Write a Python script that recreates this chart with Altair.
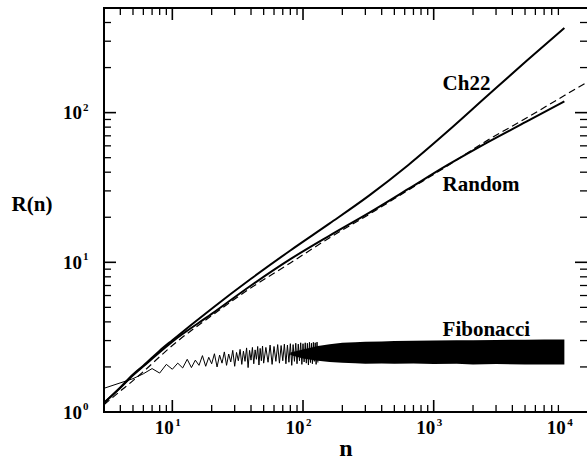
import altair as alt
import pandas as pd

# ---------------- data ----------------
curve_n = [3, 4, 5, 6, 8, 10, 20, 40, 80, 160, 320, 640, 1280, 2560, 5120, 10000]
ch22_r = [1.15, 1.46, 1.78, 2.04, 2.57, 3.02, 4.90, 7.76, 12.0, 18.2, 27.9, 44.7, 75.0, 129, 221, 367]
random_r = [1.15, 1.45, 1.76, 2.02, 2.51, 2.95, 4.52, 7.0, 10.5, 15.1, 21.4, 30.9, 44.7, 63.1, 87.1, 119]

dash_n = [3, 4, 5, 6, 8, 10, 20, 40, 80, 160, 320, 640, 1280, 2560, 5120, 10000, 15000]
dash_r = [1.12, 1.38, 1.62, 1.86, 2.34, 2.78, 4.40, 6.75, 9.9, 14.6, 20.9, 30.4, 44.2, 65.0, 92.0, 130, 160]

fib_n = [3, 5, 6, 7, 8, 9, 10, 11, 12, 13, 14, 15, 16, 17, 18, 19, 20,
         21, 22, 23, 24, 25, 26, 27, 28, 29, 30, 31, 32, 33, 34, 35, 36, 37, 38, 39, 40,
         41, 42, 43, 44, 45, 46, 47, 48, 49, 50, 52, 54, 56, 58, 60, 62, 64, 66, 68, 70,
         72, 74, 76, 78, 80, 82, 84, 86, 88, 90, 92, 94, 96, 98, 100,
         102, 104, 106, 108, 110, 112, 114, 116, 118, 120, 122, 124, 126, 128, 130]
fib_r = [1.44, 1.67, 1.80, 1.95, 1.82, 2.08, 1.93, 2.12, 1.97, 2.25, 1.98, 2.22, 2.05, 2.38, 2.02, 2.32, 2.10,
         2.45, 2.00, 2.40, 2.12, 2.52, 2.05, 2.44, 2.16, 2.58, 2.02, 2.50, 2.20, 2.62, 2.08, 2.55, 2.18, 2.68, 1.98, 2.58, 2.22,
         2.70, 2.10, 2.60, 2.25, 2.74, 2.06, 2.66, 2.20, 2.76, 2.12, 2.70, 2.15, 2.80, 2.08, 2.74, 2.18, 2.82, 2.12, 2.78, 2.20,
         2.84, 2.10, 2.80, 2.15, 2.86, 2.05, 2.82, 2.18, 2.88, 2.10, 2.84, 2.20, 2.90, 2.08, 2.86,
         2.16, 2.90, 2.12, 2.88, 2.06, 2.92, 2.14, 2.88, 2.10, 2.92, 2.18, 2.90, 2.08, 2.93, 2.14]

band_n = [80, 100, 130, 160, 200, 250, 300, 400, 500, 700, 1000, 1500, 2000, 3000, 5000, 7000, 10000]
band_lo = [2.40, 2.28, 2.20, 2.16, 2.13, 2.12, 2.10, 2.11, 2.10, 2.11, 2.09, 2.10, 2.08, 2.09, 2.08, 2.08, 2.08]
band_hi = [2.50, 2.62, 2.76, 2.84, 2.90, 2.92, 2.95, 2.96, 2.98, 2.99, 3.00, 3.01, 3.02, 3.03, 3.04, 3.05, 3.05]

label_n = [1170, 1170, 1170]
label_r = [142, 30.1, 3.21]
label_t = ["Ch22", "Random", "Fibonacci"]

x_major = [10, 100, 1000]
x_minor = [4, 5, 6, 7, 8, 9, 20, 30, 40, 50, 60, 70, 80, 90,
           200, 300, 400, 500, 600, 700, 800, 900,
           2000, 3000, 4000, 5000, 6000, 7000, 8000, 9000]
y_major = [1, 10, 100]
y_minor = [2, 3, 4, 5, 6, 7, 8, 9, 20, 30, 40, 50, 60, 70, 80, 90, 200, 300, 400]

x_lab_v = [10, 100, 1000, 10000]
x_lab_e = ["1", "2", "3", "4"]
y_lab_v = [1, 10, 100]
y_lab_e = ["0", "1", "2"]

# ---------------- chart ----------------
W, H = 483, 404
FONT = "Liberation Serif"
xs = alt.Scale(type="log", domain=[3, 14900], nice=False)
ys = alt.Scale(type="log", domain=[1, 500], nice=False)


def X(f="n"):
    return alt.X(f"{f}:Q", scale=xs, axis=None)


def Y(f="r"):
    return alt.Y(f"{f}:Q", scale=ys, axis=None)


layers = []

# curves
layers.append(alt.Chart(pd.DataFrame({"n": dash_n, "r": dash_r})).mark_line(
    color="black", strokeWidth=1.2, strokeDash=[7, 4], clip=True, interpolate="monotone"
).encode(x=X(), y=Y()))
layers.append(alt.Chart(pd.DataFrame({"n": curve_n, "r": random_r})).mark_line(
    color="black", strokeWidth=2, clip=True, interpolate="monotone").encode(x=X(), y=Y()))
layers.append(alt.Chart(pd.DataFrame({"n": curve_n, "r": ch22_r})).mark_line(
    color="black", strokeWidth=2, clip=True, interpolate="monotone").encode(x=X(), y=Y()))
layers.append(alt.Chart(pd.DataFrame({"n": band_n, "lo": band_lo, "hi": band_hi})).mark_area(
    color="black", opacity=1, clip=True).encode(x=X(), y=Y("lo"), y2="hi:Q"))
layers.append(alt.Chart(pd.DataFrame({"n": fib_n, "r": fib_r})).mark_line(
    color="black", strokeWidth=1, clip=True).encode(x=X(), y=Y()))

# series labels
layers.append(alt.Chart(pd.DataFrame({"n": label_n, "r": label_r, "t": label_t})).mark_text(
    align="left", baseline="alphabetic", font=FONT, fontWeight="bold", fontSize=21, color="black"
).encode(x=X(), y=Y(), text="t:N"))

# frame (top, bottom, left)
one = pd.DataFrame({"a": [0]})
layers.append(alt.Chart(one).mark_rule(color="black", strokeWidth=2).encode(
    x=alt.value(-1), x2=alt.value(W + 2), y=alt.value(0)))
layers.append(alt.Chart(one).mark_rule(color="black", strokeWidth=2).encode(
    x=alt.value(-1), x2=alt.value(W + 2), y=alt.value(H)))
layers.append(alt.Chart(one).mark_rule(color="black", strokeWidth=2).encode(
    x=alt.value(0), y=alt.value(-1), y2=alt.value(H + 1)))

# inward ticks
for vals, ln, sw in [(x_major, 12, 1.6), (x_minor, 7, 1.3)]:
    d = pd.DataFrame({"n": vals})
    layers.append(alt.Chart(d).mark_rule(color="black", strokeWidth=sw).encode(
        x=X(), y=alt.value(H), y2=alt.value(H - ln)))
    layers.append(alt.Chart(d).mark_rule(color="black", strokeWidth=sw).encode(
        x=X(), y=alt.value(0), y2=alt.value(ln)))
for vals, ln, sw in [(y_major, 12, 1.6), (y_minor, 7, 1.3)]:
    d = pd.DataFrame({"r": vals})
    layers.append(alt.Chart(d).mark_rule(color="black", strokeWidth=sw).encode(
        y=Y(), x=alt.value(0), x2=alt.value(ln)))
    layers.append(alt.Chart(d).mark_rule(color="black", strokeWidth=sw).encode(
        y=Y(), x=alt.value(W), x2=alt.value(W - ln)))

# tick labels (10 with superscript exponent)
xl = pd.DataFrame({"n": x_lab_v, "b": ["10"] * len(x_lab_v), "e": x_lab_e})
layers.append(alt.Chart(xl).mark_text(
    align="right", baseline="alphabetic", font=FONT, fontWeight="bold", fontSize=19, dx=1.5, color="black"
).encode(x=X(), y=alt.value(H + 22), text="b:N"))
layers.append(alt.Chart(xl).mark_text(
    align="left", baseline="alphabetic", font=FONT, fontWeight="bold", fontSize=11, dx=3, color="black"
).encode(x=X(), y=alt.value(H + 14), text="e:N"))

yl = pd.DataFrame({"r": y_lab_v, "b": ["10"] * len(y_lab_v), "e": y_lab_e})
layers.append(alt.Chart(yl).mark_text(
    align="right", baseline="alphabetic", font=FONT, fontWeight="bold", fontSize=19, dy=6.6, color="black"
).encode(y=Y(), x=alt.value(-22), text="b:N"))
layers.append(alt.Chart(yl).mark_text(
    align="left", baseline="alphabetic", font=FONT, fontWeight="bold", fontSize=11, dy=-2, color="black"
).encode(y=Y(), x=alt.value(-21), text="e:N"))

# axis titles
layers.append(alt.Chart(pd.DataFrame({"t": ["R(n)"]})).mark_text(
    align="center", baseline="middle", font=FONT, fontWeight="bold", fontSize=21, color="black"
).encode(x=alt.value(-72), y=alt.value(197), text="t:N"))
layers.append(alt.Chart(pd.DataFrame({"t": ["n"]})).mark_text(
    align="center", baseline="middle", font=FONT, fontWeight="bold", fontSize=24, color="black"
).encode(x=alt.value(242), y=alt.value(441), text="t:N"))

chart = alt.layer(*layers).properties(
    width=W, height=H,
    autosize=alt.AutoSizeParams(type="none"),
    padding={"left": 104, "top": 8, "right": 0, "bottom": 54},
    background="white",
).configure_view(stroke=None)

chart.save("out.html", embed_options={"renderer": "svg", "actions": False})
